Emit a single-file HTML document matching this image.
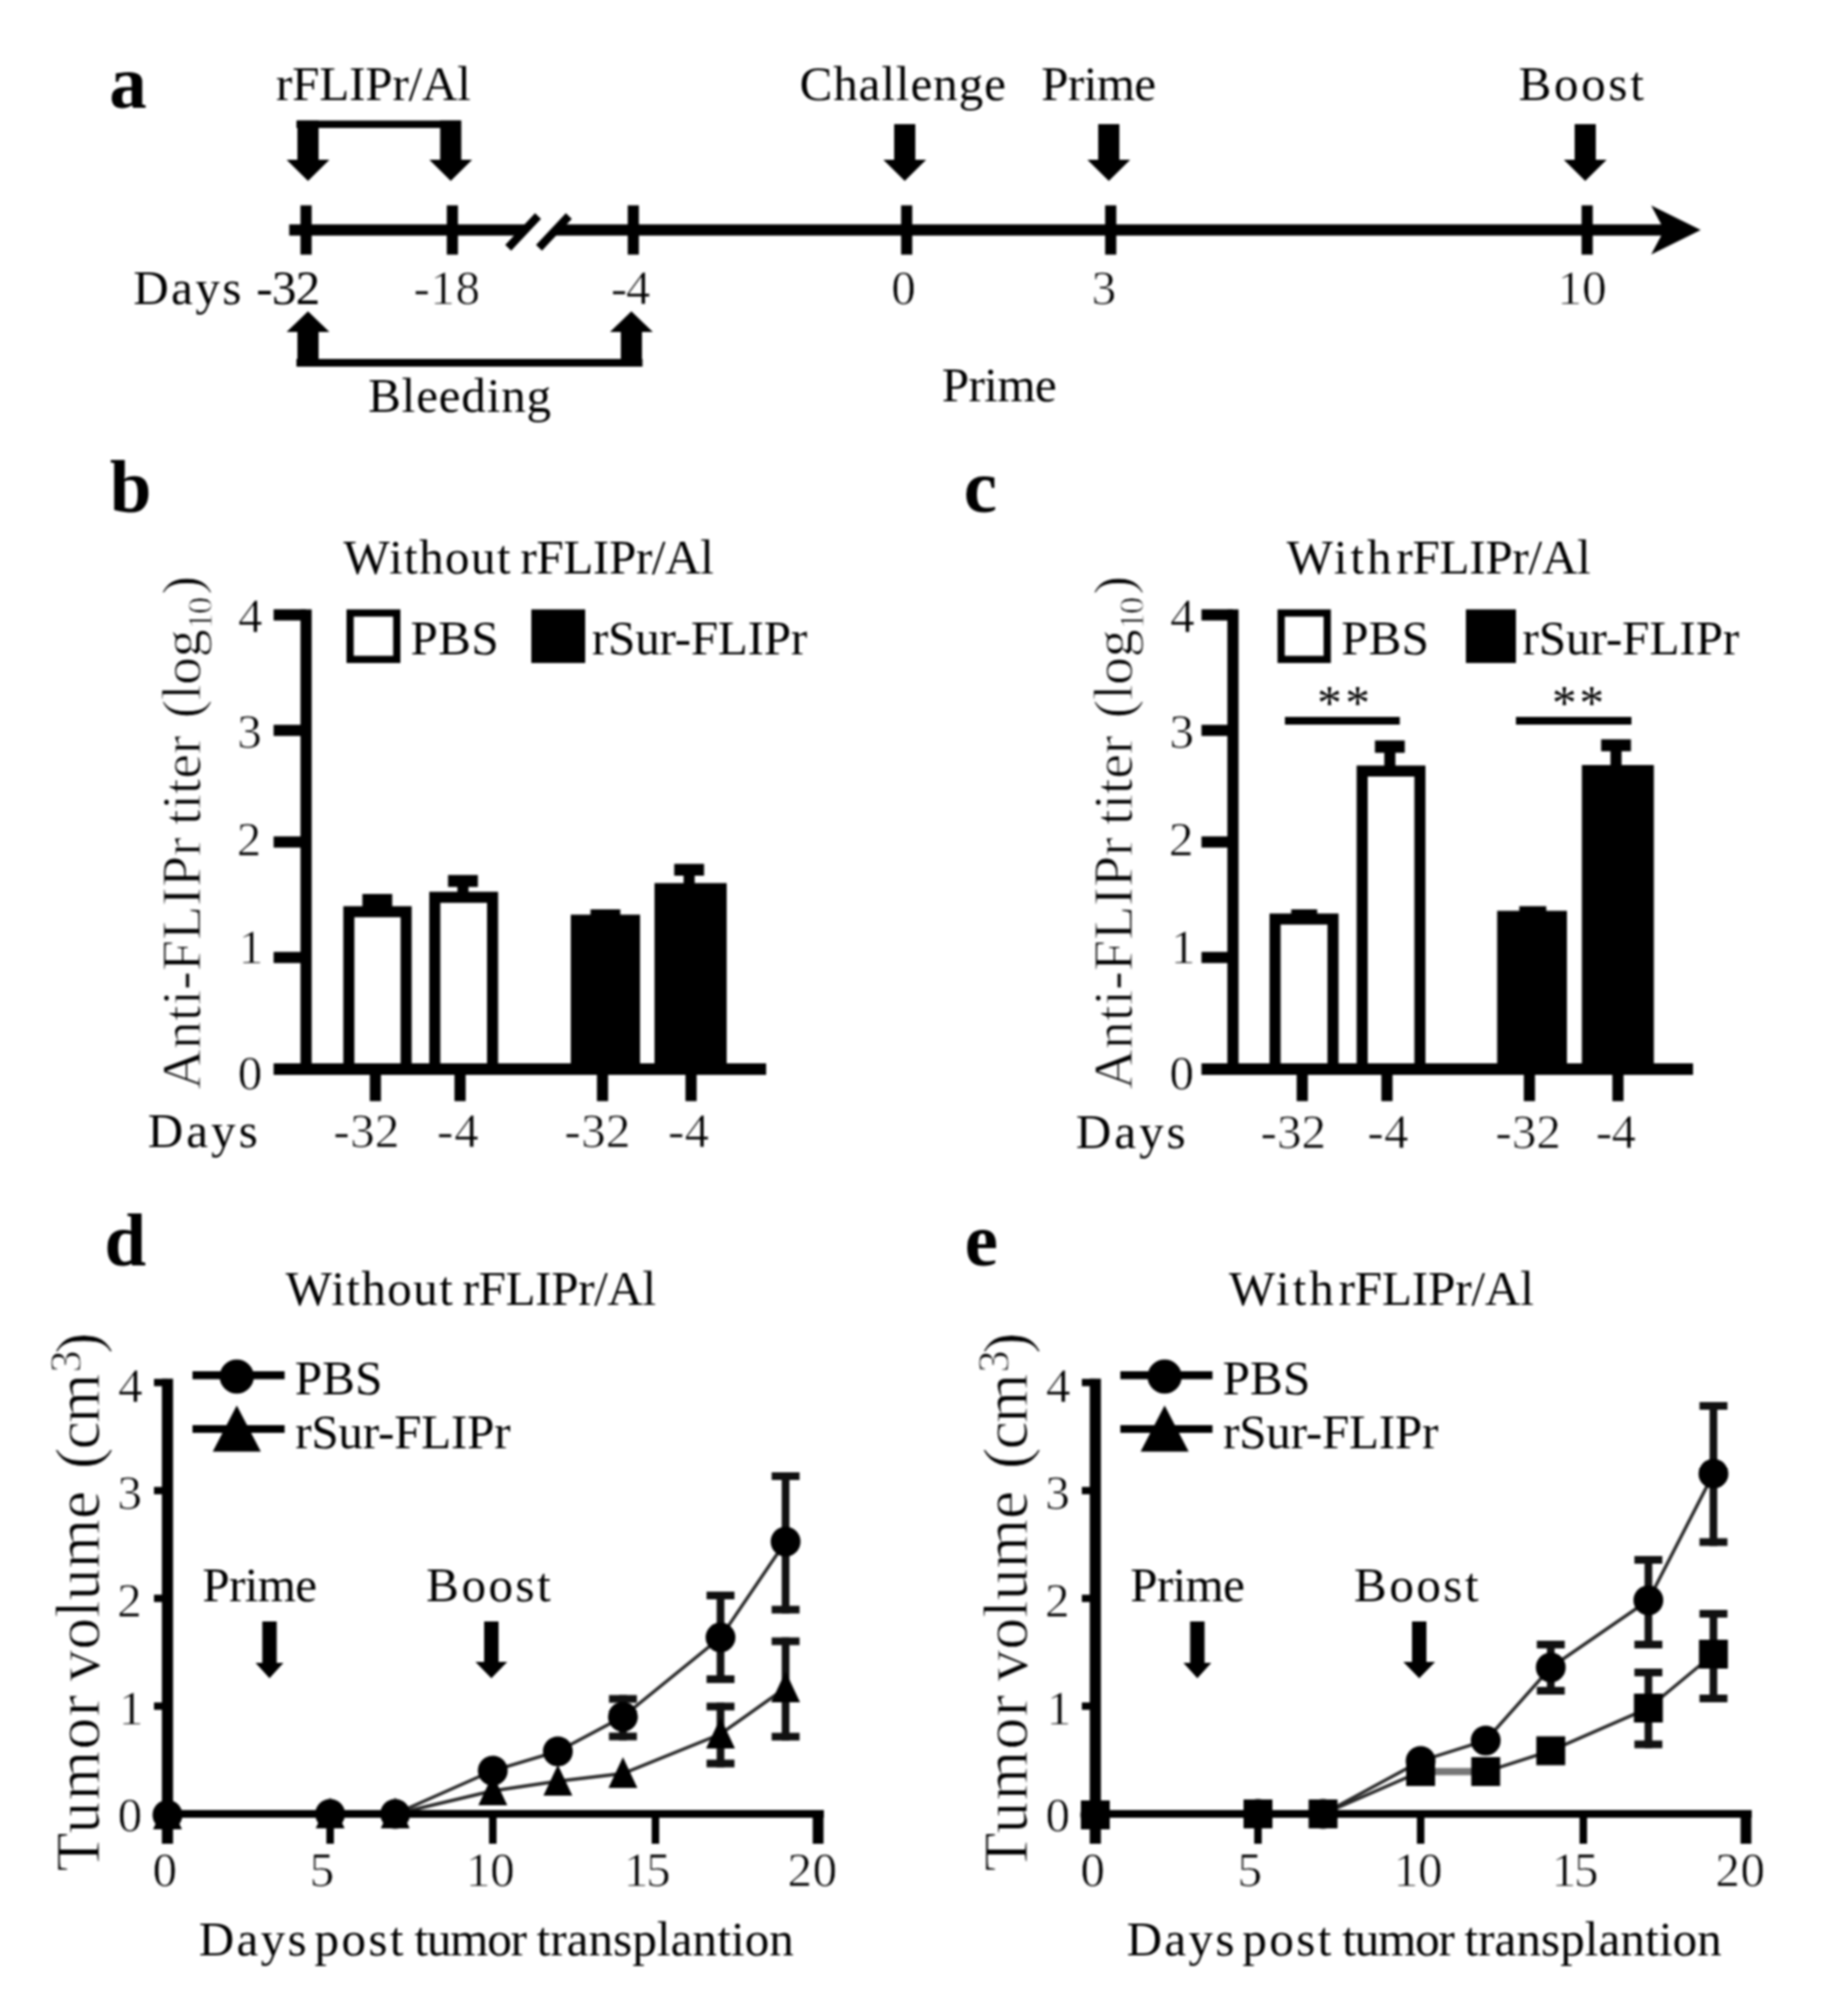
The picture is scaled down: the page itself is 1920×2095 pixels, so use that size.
<!DOCTYPE html>
<html><head><meta charset="utf-8"><title>Figure</title>
<style>
html,body{margin:0;padding:0;background:#fff;}
svg{display:block;filter:blur(1px);}
text{font-family:"Liberation Serif","Times New Roman",serif;fill:#000;}
</style></head>
<body>
<svg width="1920" height="2095" viewBox="0 0 1920 2095">
<rect width="1920" height="2095" fill="#fff"/>
<text x="113.50" y="111.70" font-size="78" font-weight="bold">a</text>
<text x="286.70" y="104.30" font-size="51" letter-spacing="-0.175">rFLIPr/Al</text>
<text x="830.70" y="104.30" font-size="51" letter-spacing="0.950">Challenge</text>
<text x="1081.80" y="104.30" font-size="51" letter-spacing="-0.625">Prime</text>
<text x="1577.80" y="104.30" font-size="51" letter-spacing="2.750">Boost</text>
<rect x="308.00" y="125.30" width="171.00" height="7.70" fill="#000"/>
<polygon points="309.00,125.30 331.00,125.30 331.00,166.00 342.25,166.00 320.00,188.00 297.75,166.00 309.00,166.00" fill="#000"/>
<polygon points="457.30,125.30 479.30,125.30 479.30,166.00 490.55,166.00 468.30,188.00 446.05,166.00 457.30,166.00" fill="#000"/>
<polygon points="929.00,129.00 951.00,129.00 951.00,166.00 962.25,166.00 940.00,188.00 917.75,166.00 929.00,166.00" fill="#000"/>
<polygon points="1141.00,129.00 1163.00,129.00 1163.00,166.00 1174.25,166.00 1152.00,188.00 1129.75,166.00 1141.00,166.00" fill="#000"/>
<polygon points="1636.00,129.00 1658.00,129.00 1658.00,166.00 1669.25,166.00 1647.00,188.00 1624.75,166.00 1636.00,166.00" fill="#000"/>
<rect x="300.50" y="233.20" width="1431.50" height="11.60" fill="#000"/>
<rect x="312.20" y="213.40" width="11.60" height="51.20" fill="#000"/>
<rect x="464.20" y="213.40" width="11.60" height="51.20" fill="#000"/>
<rect x="652.20" y="213.40" width="11.60" height="51.20" fill="#000"/>
<rect x="936.20" y="213.40" width="11.60" height="51.20" fill="#000"/>
<rect x="1148.20" y="213.40" width="11.60" height="51.20" fill="#000"/>
<rect x="1643.20" y="213.40" width="11.60" height="51.20" fill="#000"/>
<polygon points="1767.00,239.00 1715.50,213.50 1729.00,239.00 1715.50,264.50" fill="#000"/>
<polygon points="530.00,259.00 561.00,222.00 589.00,222.00 558.00,259.00" fill="#fff"/>
<line x1="528.00" y1="257.50" x2="559.00" y2="224.50" stroke="#000" stroke-width="8.5" stroke-linecap="butt"/>
<line x1="560.00" y1="257.50" x2="591.00" y2="224.50" stroke="#000" stroke-width="8.5" stroke-linecap="butt"/>
<text y="316.00" font-size="51"><tspan x="138.50" letter-spacing="2.500">Days</tspan> <tspan x="266.30" letter-spacing="-0.775">-32</tspan></text>
<text x="429.70" y="316.00" font-size="51" letter-spacing="0.500" stroke="#fff" stroke-width="0.7">-18</text>
<text x="634.70" y="316.00" font-size="51" letter-spacing="-1.450" stroke="#fff" stroke-width="0.7">-4</text>
<text x="926.00" y="316.00" font-size="51" stroke="#fff" stroke-width="0.7">0</text>
<text x="1134.20" y="316.00" font-size="51" stroke="#fff" stroke-width="0.7">3</text>
<text x="1618.20" y="316.00" font-size="51" letter-spacing="0.100" stroke="#fff" stroke-width="0.7">10</text>
<rect x="308.00" y="373.00" width="359.50" height="8.00" fill="#000"/>
<polygon points="309.00,381.00 331.00,381.00 331.00,345.00 342.25,345.00 320.00,323.50 297.75,345.00 309.00,345.00" fill="#000"/>
<polygon points="645.00,381.00 667.00,381.00 667.00,345.00 678.25,345.00 656.00,323.50 633.75,345.00 645.00,345.00" fill="#000"/>
<text x="382.50" y="428.30" font-size="51" letter-spacing="0.850">Bleeding</text>
<text x="978.50" y="416.70" font-size="51" letter-spacing="-0.625">Prime</text>
<text x="114.00" y="531.70" font-size="78" font-weight="bold">b</text>
<text y="596.00" font-size="51"><tspan x="356.70" letter-spacing="1.425">Without</tspan> <tspan x="540.70" letter-spacing="-0.375">rFLIPr/Al</tspan></text>
<rect x="312.20" y="633.30" width="11.60" height="483.70" fill="#000"/>
<rect x="284.30" y="1105.00" width="511.70" height="12.00" fill="#000"/>
<rect x="284.30" y="633.20" width="33.70" height="11.60" fill="#000"/>
<rect x="284.30" y="753.20" width="33.70" height="11.60" fill="#000"/>
<rect x="284.30" y="869.20" width="33.70" height="11.60" fill="#000"/>
<rect x="284.30" y="989.20" width="33.70" height="11.60" fill="#000"/>
<text x="247.30" y="656.70" font-size="51" stroke="#fff" stroke-width="0.7">4</text>
<text x="246.50" y="776.70" font-size="51" stroke="#fff" stroke-width="0.7">3</text>
<text x="246.05" y="888.60" font-size="51" stroke="#fff" stroke-width="0.7">2</text>
<text x="248.00" y="1000.50" font-size="51" stroke="#fff" stroke-width="0.7">1</text>
<text x="246.90" y="1132.00" font-size="51" stroke="#fff" stroke-width="0.7">0</text>
<rect x="360.00" y="633.30" width="56.00" height="55.70" fill="#000"/>
<rect x="367.50" y="640.80" width="41.00" height="40.70" fill="#fff"/>
<text x="426.50" y="680.00" font-size="51" letter-spacing="0.375">PBS</text>
<rect x="552.00" y="633.30" width="56.00" height="55.70" fill="#000"/>
<text x="615.00" y="680.00" font-size="51" letter-spacing="-0.217">rSur-FLIPr</text>
<rect x="356.70" y="941.70" width="71.00" height="164.30" fill="#000"/>
<rect x="368.20" y="953.20" width="48.00" height="151.80" fill="#fff"/>
<rect x="376.50" y="929.00" width="31.00" height="13.00" fill="#000"/>
<rect x="446.00" y="926.70" width="71.50" height="179.30" fill="#000"/>
<rect x="457.50" y="938.20" width="48.50" height="166.80" fill="#fff"/>
<rect x="465.50" y="909.30" width="31.00" height="12.40" fill="#000"/>
<rect x="475.25" y="920.70" width="11.50" height="7.30" fill="#000"/>
<rect x="593.00" y="950.50" width="72.00" height="155.50" fill="#000"/>
<rect x="613.50" y="945.00" width="31.00" height="6.00" fill="#000"/>
<rect x="680.00" y="917.70" width="75.00" height="188.30" fill="#000"/>
<rect x="700.50" y="897.70" width="31.00" height="12.30" fill="#000"/>
<rect x="710.25" y="909.00" width="11.50" height="10.00" fill="#000"/>
<rect x="384.20" y="1117.00" width="11.60" height="27.30" fill="#000"/>
<rect x="472.20" y="1117.00" width="11.60" height="27.30" fill="#000"/>
<rect x="620.20" y="1117.00" width="11.60" height="27.30" fill="#000"/>
<rect x="712.20" y="1117.00" width="11.60" height="27.30" fill="#000"/>
<text x="153.50" y="1192.00" font-size="51" letter-spacing="3.167">Days</text>
<text x="346.30" y="1192.00" font-size="51" letter-spacing="0.375" stroke="#fff" stroke-width="0.7">-32</text>
<text x="454.00" y="1192.00" font-size="51" letter-spacing="0.950" stroke="#fff" stroke-width="0.7">-4</text>
<text x="586.30" y="1192.00" font-size="51" letter-spacing="0.375" stroke="#fff" stroke-width="0.7">-32</text>
<text x="694.00" y="1192.00" font-size="51" letter-spacing="0.250" stroke="#fff" stroke-width="0.7">-4</text>
<text x="1001.25" y="532.30" font-size="78" font-weight="bold">c</text>
<text y="596.00" font-size="51"><tspan x="1336.70" letter-spacing="3.017">With</tspan> <tspan x="1450.70" letter-spacing="-0.250">rFLIPr/Al</tspan></text>
<rect x="1275.20" y="633.30" width="11.60" height="483.70" fill="#000"/>
<rect x="1248.30" y="1105.00" width="510.70" height="12.00" fill="#000"/>
<rect x="1248.30" y="633.20" width="32.70" height="11.60" fill="#000"/>
<rect x="1248.30" y="753.20" width="32.70" height="11.60" fill="#000"/>
<rect x="1248.30" y="869.20" width="32.70" height="11.60" fill="#000"/>
<rect x="1248.30" y="989.20" width="32.70" height="11.60" fill="#000"/>
<text x="1215.70" y="656.70" font-size="51" stroke="#fff" stroke-width="0.7">4</text>
<text x="1214.90" y="776.70" font-size="51" stroke="#fff" stroke-width="0.7">3</text>
<text x="1214.45" y="888.60" font-size="51" stroke="#fff" stroke-width="0.7">2</text>
<text x="1216.50" y="1000.50" font-size="51" stroke="#fff" stroke-width="0.7">1</text>
<text x="1215.00" y="1132.00" font-size="51" stroke="#fff" stroke-width="0.7">0</text>
<rect x="1327.30" y="633.30" width="55.40" height="55.70" fill="#000"/>
<rect x="1334.80" y="640.80" width="40.40" height="40.70" fill="#fff"/>
<text x="1393.50" y="680.00" font-size="51" letter-spacing="0.225">PBS</text>
<rect x="1523.00" y="633.30" width="52.00" height="55.70" fill="#000"/>
<text x="1581.70" y="680.00" font-size="51" letter-spacing="-0.028">rSur-FLIPr</text>
<text x="1368.50" y="746.70" font-size="51" letter-spacing="3.700">**</text>
<text x="1612.50" y="746.70" font-size="51" letter-spacing="3.000">**</text>
<rect x="1335.00" y="745.00" width="119.30" height="8.00" fill="#000"/>
<rect x="1575.00" y="745.00" width="120.00" height="8.00" fill="#000"/>
<rect x="1319.00" y="949.30" width="71.70" height="156.70" fill="#000"/>
<rect x="1330.50" y="960.80" width="48.70" height="144.20" fill="#fff"/>
<rect x="1341.50" y="945.00" width="27.00" height="5.00" fill="#000"/>
<rect x="1409.50" y="795.50" width="71.50" height="310.50" fill="#000"/>
<rect x="1421.00" y="807.00" width="48.50" height="298.00" fill="#fff"/>
<rect x="1428.50" y="769.50" width="31.00" height="12.80" fill="#000"/>
<rect x="1438.25" y="781.30" width="11.50" height="15.70" fill="#000"/>
<rect x="1555.50" y="946.50" width="72.50" height="159.50" fill="#000"/>
<rect x="1578.50" y="941.70" width="28.00" height="5.30" fill="#000"/>
<rect x="1643.50" y="795.00" width="74.80" height="311.00" fill="#000"/>
<rect x="1663.50" y="768.30" width="31.00" height="12.40" fill="#000"/>
<rect x="1673.25" y="779.70" width="11.50" height="17.30" fill="#000"/>
<rect x="1347.20" y="1117.00" width="11.60" height="27.30" fill="#000"/>
<rect x="1435.20" y="1117.00" width="11.60" height="27.30" fill="#000"/>
<rect x="1583.20" y="1117.00" width="11.60" height="27.30" fill="#000"/>
<rect x="1675.20" y="1117.00" width="11.60" height="27.30" fill="#000"/>
<text x="1117.80" y="1192.50" font-size="51" letter-spacing="3.067">Days</text>
<text x="1309.70" y="1192.50" font-size="51" letter-spacing="0.025" stroke="#fff" stroke-width="0.7">-32</text>
<text x="1420.70" y="1192.50" font-size="51" letter-spacing="0.250" stroke="#fff" stroke-width="0.7">-4</text>
<text x="1553.70" y="1192.50" font-size="51" letter-spacing="0.025" stroke="#fff" stroke-width="0.7">-32</text>
<text x="1658.00" y="1192.50" font-size="51" letter-spacing="-0.750" stroke="#fff" stroke-width="0.7">-4</text>
<text transform="translate(208,1132.5) rotate(-90)" font-size="58" stroke="#fff" stroke-width="0.9"><tspan x="0.30" dy="0" font-size="58" letter-spacing="0.122">Anti-FLIPr</tspan> <tspan x="275.30" dy="0" font-size="58" letter-spacing="-0.138">titer</tspan> <tspan x="386.00" dy="0" font-size="58" letter-spacing="-0.333">(log</tspan><tspan x="478.25" dy="12" font-size="36" letter-spacing="-2.000">10</tspan><tspan x="514.75" dy="-12" font-size="58" letter-spacing="0.000">)</tspan></text>
<text transform="translate(1175.5,1132.5) rotate(-90)" font-size="58" stroke="#fff" stroke-width="0.9"><tspan x="0.30" dy="0" font-size="58" letter-spacing="0.122">Anti-FLIPr</tspan> <tspan x="275.30" dy="0" font-size="58" letter-spacing="-0.138">titer</tspan> <tspan x="386.00" dy="0" font-size="58" letter-spacing="-0.333">(log</tspan><tspan x="478.25" dy="12" font-size="36" letter-spacing="-2.000">10</tspan><tspan x="514.75" dy="-12" font-size="58" letter-spacing="0.000">)</tspan></text>
<text x="108.45" y="1315.00" font-size="78" font-weight="bold">d</text>
<text y="1356.00" font-size="51"><tspan x="296.70" letter-spacing="1.425">Without</tspan> <tspan x="480.70" letter-spacing="-0.375">rFLIPr/Al</tspan></text>
<polyline fill="none" stroke="#2a2a2a" stroke-width="3.4" points="174.0,1886.0 343.0,1885.0 410.6,1885.0 512.0,1840.0 579.6,1820.0 647.2,1784.0 748.6,1701.6 816.2,1602.0"/>
<polyline fill="none" stroke="#2a2a2a" stroke-width="3.4" points="174.0,1886.0 343.0,1885.0 410.6,1885.0 512.0,1861.0 579.6,1851.0 647.2,1843.0 748.6,1802.0 816.2,1754.0"/>
<rect x="168.20" y="1432.70" width="11.60" height="483.30" fill="#000"/>
<rect x="160.00" y="1881.00" width="696.00" height="8.00" fill="#000"/>
<rect x="160.00" y="1432.90" width="14.00" height="7.60" fill="#000"/>
<rect x="160.00" y="1545.20" width="14.00" height="7.60" fill="#000"/>
<rect x="160.00" y="1657.20" width="14.00" height="7.60" fill="#000"/>
<rect x="160.00" y="1769.20" width="14.00" height="7.60" fill="#000"/>
<rect x="339.10" y="1889.00" width="7.80" height="27.00" fill="#000"/>
<rect x="508.10" y="1889.00" width="7.80" height="27.00" fill="#000"/>
<rect x="677.10" y="1889.00" width="7.80" height="27.00" fill="#000"/>
<rect x="844.40" y="1885.00" width="11.20" height="31.00" fill="#000"/>
<text x="122.80" y="1456.50" font-size="51" stroke="#fff" stroke-width="0.7">4</text>
<text x="122.00" y="1568.40" font-size="51" stroke="#fff" stroke-width="0.7">3</text>
<text x="121.75" y="1680.00" font-size="51" stroke="#fff" stroke-width="0.7">2</text>
<text x="123.50" y="1792.20" font-size="51" stroke="#fff" stroke-width="0.7">1</text>
<text x="122.30" y="1903.20" font-size="51" stroke="#fff" stroke-width="0.7">0</text>
<text x="158.50" y="1960.30" font-size="51" stroke="#fff" stroke-width="0.7">0</text>
<text x="321.80" y="1960.30" font-size="51" stroke="#fff" stroke-width="0.7">5</text>
<text x="484.10" y="1960.30" font-size="51" letter-spacing="-0.300" stroke="#fff" stroke-width="0.7">10</text>
<text x="648.30" y="1960.30" font-size="51" letter-spacing="-2.600" stroke="#fff" stroke-width="0.7">15</text>
<text x="818.15" y="1960.30" font-size="51" letter-spacing="0.650" stroke="#fff" stroke-width="0.7">20</text>
<text y="2032.00" font-size="51"><tspan x="206.40" letter-spacing="2.467">Days</tspan> <tspan x="326.75" letter-spacing="2.450">post</tspan> <tspan x="430.50" letter-spacing="-1.188">tumor</tspan> <tspan x="557.40" letter-spacing="0.092">transplantion</tspan></text>
<rect x="200.00" y="1425.00" width="95.70" height="8.30" fill="#000"/>
<circle cx="246.00" cy="1430.50" r="17.8" fill="#000"/>
<rect x="200.00" y="1481.00" width="95.70" height="8.00" fill="#000"/>
<polygon points="246.00,1460.50 271.00,1508.50 221.00,1508.50" fill="#000"/>
<text x="306.20" y="1449.00" font-size="51" letter-spacing="0.175">PBS</text>
<text x="306.70" y="1505.00" font-size="51" letter-spacing="-0.217">rSur-FLIPr</text>
<text x="210.20" y="1664.00" font-size="51" letter-spacing="-0.625">Prime</text>
<text x="442.80" y="1664.00" font-size="51" letter-spacing="2.600">Boost</text>
<polygon points="272.50,1685.00 287.50,1685.00 287.50,1728.00 294.50,1728.00 280.00,1744.00 265.50,1728.00 272.50,1728.00" fill="#000"/>
<polygon points="503.00,1685.00 518.00,1685.00 518.00,1727.00 527.00,1727.00 510.50,1744.00 494.00,1727.00 503.00,1727.00" fill="#000"/>
<text transform="translate(103,1944) rotate(-90)" font-size="66" stroke="#fff" stroke-width="0.9"><tspan x="-0.65" dy="0" font-size="66" letter-spacing="1.475">Tumor</tspan> <tspan x="196.60" dy="0" font-size="66" letter-spacing="0.050">volume</tspan> <tspan x="417.40" dy="0" font-size="66" letter-spacing="-1.700">(cm</tspan><tspan x="517.75" dy="-19" font-size="46" letter-spacing="0.000">3</tspan><tspan x="537.25" dy="19" font-size="66" letter-spacing="0.000">)</tspan></text>
<rect x="643.20" y="1761.50" width="8.00" height="47.00" fill="#111"/>
<rect x="632.70" y="1761.50" width="29.00" height="8.00" fill="#111"/>
<rect x="632.70" y="1800.50" width="29.00" height="8.00" fill="#111"/>
<rect x="744.60" y="1654.00" width="8.00" height="95.00" fill="#111"/>
<rect x="734.10" y="1654.00" width="29.00" height="8.00" fill="#111"/>
<rect x="734.10" y="1741.00" width="29.00" height="8.00" fill="#111"/>
<rect x="812.20" y="1530.00" width="8.00" height="146.70" fill="#111"/>
<rect x="801.70" y="1530.00" width="29.00" height="8.00" fill="#111"/>
<rect x="801.70" y="1668.70" width="29.00" height="8.00" fill="#111"/>
<rect x="744.60" y="1769.40" width="8.00" height="67.20" fill="#111"/>
<rect x="734.10" y="1769.40" width="29.00" height="8.00" fill="#111"/>
<rect x="734.10" y="1828.60" width="29.00" height="8.00" fill="#111"/>
<rect x="812.20" y="1701.60" width="8.00" height="107.10" fill="#111"/>
<rect x="801.70" y="1701.60" width="29.00" height="8.00" fill="#111"/>
<rect x="801.70" y="1800.70" width="29.00" height="8.00" fill="#111"/>
<circle cx="174.00" cy="1886.00" r="15.5" fill="#000"/>
<circle cx="343.00" cy="1885.00" r="15.5" fill="#000"/>
<circle cx="410.60" cy="1885.00" r="15.5" fill="#000"/>
<circle cx="512.00" cy="1840.00" r="15.5" fill="#000"/>
<circle cx="579.60" cy="1820.00" r="15.5" fill="#000"/>
<circle cx="647.20" cy="1784.00" r="15.5" fill="#000"/>
<circle cx="748.60" cy="1701.60" r="15.5" fill="#000"/>
<circle cx="816.20" cy="1602.00" r="15.5" fill="#000"/>
<polygon points="174.00,1869.00 189.00,1901.00 159.00,1901.00" fill="#000"/>
<polygon points="343.00,1868.00 358.00,1900.00 328.00,1900.00" fill="#000"/>
<polygon points="410.60,1868.00 425.60,1900.00 395.60,1900.00" fill="#000"/>
<polygon points="512.00,1844.00 527.00,1876.00 497.00,1876.00" fill="#000"/>
<polygon points="579.60,1834.00 594.60,1866.00 564.60,1866.00" fill="#000"/>
<polygon points="647.20,1826.00 662.20,1858.00 632.20,1858.00" fill="#000"/>
<polygon points="748.60,1785.00 763.60,1817.00 733.60,1817.00" fill="#000"/>
<polygon points="816.20,1737.00 831.20,1769.00 801.20,1769.00" fill="#000"/>
<text x="1002.25" y="1315.00" font-size="78" font-weight="bold">e</text>
<text y="1356.00" font-size="51"><tspan x="1276.70" letter-spacing="3.017">With</tspan> <tspan x="1390.70" letter-spacing="-0.125">rFLIPr/Al</tspan></text>
<polyline fill="none" stroke="#2a2a2a" stroke-width="3.4" points="1138.0,1886.0 1307.0,1885.0 1374.6,1885.0 1476.0,1830.0 1543.6,1808.7 1611.2,1732.8 1712.6,1663.0 1780.2,1531.4"/>
<polyline fill="none" stroke="#2a2a2a" stroke-width="3.4" points="1138.0,1886.0 1307.0,1885.0 1374.6,1885.0 1476.0,1841.0 1543.6,1841.0 1611.2,1819.4 1712.6,1775.0 1780.2,1719.0"/>
<line x1="1476.00" y1="1841.00" x2="1543.60" y2="1841.00" stroke="#777" stroke-width="7.5" stroke-linecap="butt"/>
<rect x="1132.20" y="1432.70" width="11.60" height="483.30" fill="#000"/>
<rect x="1124.00" y="1881.00" width="696.00" height="8.00" fill="#000"/>
<rect x="1124.00" y="1432.90" width="14.00" height="7.60" fill="#000"/>
<rect x="1124.00" y="1545.20" width="14.00" height="7.60" fill="#000"/>
<rect x="1124.00" y="1657.20" width="14.00" height="7.60" fill="#000"/>
<rect x="1124.00" y="1769.20" width="14.00" height="7.60" fill="#000"/>
<rect x="1303.10" y="1889.00" width="7.80" height="27.00" fill="#000"/>
<rect x="1472.10" y="1889.00" width="7.80" height="27.00" fill="#000"/>
<rect x="1641.10" y="1889.00" width="7.80" height="27.00" fill="#000"/>
<rect x="1808.40" y="1885.00" width="11.20" height="31.00" fill="#000"/>
<text x="1086.80" y="1456.50" font-size="51" stroke="#fff" stroke-width="0.7">4</text>
<text x="1086.00" y="1568.40" font-size="51" stroke="#fff" stroke-width="0.7">3</text>
<text x="1085.75" y="1680.00" font-size="51" stroke="#fff" stroke-width="0.7">2</text>
<text x="1087.50" y="1792.20" font-size="51" stroke="#fff" stroke-width="0.7">1</text>
<text x="1086.30" y="1903.20" font-size="51" stroke="#fff" stroke-width="0.7">0</text>
<text x="1122.50" y="1960.30" font-size="51" stroke="#fff" stroke-width="0.7">0</text>
<text x="1285.80" y="1960.30" font-size="51" stroke="#fff" stroke-width="0.7">5</text>
<text x="1448.10" y="1960.30" font-size="51" letter-spacing="-0.300" stroke="#fff" stroke-width="0.7">10</text>
<text x="1612.30" y="1960.30" font-size="51" letter-spacing="-2.600" stroke="#fff" stroke-width="0.7">15</text>
<text x="1782.15" y="1960.30" font-size="51" letter-spacing="0.650" stroke="#fff" stroke-width="0.7">20</text>
<text y="2032.00" font-size="51"><tspan x="1170.40" letter-spacing="2.467">Days</tspan> <tspan x="1290.75" letter-spacing="2.450">post</tspan> <tspan x="1394.50" letter-spacing="-1.188">tumor</tspan> <tspan x="1521.40" letter-spacing="0.092">transplantion</tspan></text>
<rect x="1164.00" y="1425.00" width="95.70" height="8.30" fill="#000"/>
<circle cx="1210.00" cy="1430.50" r="17.8" fill="#000"/>
<rect x="1164.00" y="1481.00" width="95.70" height="8.00" fill="#000"/>
<polygon points="1210.00,1460.50 1235.00,1508.50 1185.00,1508.50" fill="#000"/>
<text x="1270.20" y="1449.00" font-size="51" letter-spacing="0.175">PBS</text>
<text x="1270.70" y="1505.00" font-size="51" letter-spacing="-0.217">rSur-FLIPr</text>
<text x="1174.20" y="1664.00" font-size="51" letter-spacing="-0.625">Prime</text>
<text x="1406.80" y="1664.00" font-size="51" letter-spacing="2.600">Boost</text>
<polygon points="1236.50,1685.00 1251.50,1685.00 1251.50,1728.00 1258.50,1728.00 1244.00,1744.00 1229.50,1728.00 1236.50,1728.00" fill="#000"/>
<polygon points="1467.00,1685.00 1482.00,1685.00 1482.00,1727.00 1491.00,1727.00 1474.50,1744.00 1458.00,1727.00 1467.00,1727.00" fill="#000"/>
<text transform="translate(1067,1944) rotate(-90)" font-size="66" stroke="#fff" stroke-width="0.9"><tspan x="-0.65" dy="0" font-size="66" letter-spacing="1.475">Tumor</tspan> <tspan x="196.60" dy="0" font-size="66" letter-spacing="0.050">volume</tspan> <tspan x="417.40" dy="0" font-size="66" letter-spacing="-1.700">(cm</tspan><tspan x="517.75" dy="-19" font-size="46" letter-spacing="0.000">3</tspan><tspan x="537.25" dy="19" font-size="66" letter-spacing="0.000">)</tspan></text>
<rect x="1607.20" y="1705.00" width="8.00" height="56.00" fill="#111"/>
<rect x="1596.70" y="1705.00" width="29.00" height="8.00" fill="#111"/>
<rect x="1596.70" y="1753.00" width="29.00" height="8.00" fill="#111"/>
<rect x="1708.60" y="1617.00" width="8.00" height="96.00" fill="#111"/>
<rect x="1698.10" y="1617.00" width="29.00" height="8.00" fill="#111"/>
<rect x="1698.10" y="1705.00" width="29.00" height="8.00" fill="#111"/>
<rect x="1776.20" y="1457.00" width="8.00" height="149.50" fill="#111"/>
<rect x="1765.70" y="1457.00" width="29.00" height="8.00" fill="#111"/>
<rect x="1765.70" y="1598.50" width="29.00" height="8.00" fill="#111"/>
<rect x="1708.60" y="1734.00" width="8.00" height="82.70" fill="#111"/>
<rect x="1698.10" y="1734.00" width="29.00" height="8.00" fill="#111"/>
<rect x="1698.10" y="1808.70" width="29.00" height="8.00" fill="#111"/>
<rect x="1776.20" y="1673.00" width="8.00" height="96.00" fill="#111"/>
<rect x="1765.70" y="1673.00" width="29.00" height="8.00" fill="#111"/>
<rect x="1765.70" y="1761.00" width="29.00" height="8.00" fill="#111"/>
<circle cx="1138.00" cy="1886.00" r="15.5" fill="#000"/>
<circle cx="1307.00" cy="1885.00" r="15.5" fill="#000"/>
<circle cx="1374.60" cy="1885.00" r="15.5" fill="#000"/>
<circle cx="1476.00" cy="1830.00" r="15.5" fill="#000"/>
<circle cx="1543.60" cy="1808.70" r="15.5" fill="#000"/>
<circle cx="1611.20" cy="1732.80" r="15.5" fill="#000"/>
<circle cx="1712.60" cy="1663.00" r="15.5" fill="#000"/>
<circle cx="1780.20" cy="1531.40" r="15.5" fill="#000"/>
<rect x="1123.00" y="1871.00" width="30.00" height="30.00" fill="#000"/>
<rect x="1292.00" y="1870.00" width="30.00" height="30.00" fill="#000"/>
<rect x="1359.60" y="1870.00" width="30.00" height="30.00" fill="#000"/>
<rect x="1461.00" y="1826.00" width="30.00" height="30.00" fill="#000"/>
<rect x="1528.60" y="1826.00" width="30.00" height="30.00" fill="#000"/>
<rect x="1596.20" y="1804.40" width="30.00" height="30.00" fill="#000"/>
<rect x="1697.60" y="1760.00" width="30.00" height="30.00" fill="#000"/>
<rect x="1765.20" y="1704.00" width="30.00" height="30.00" fill="#000"/>
</svg>
</body></html>
